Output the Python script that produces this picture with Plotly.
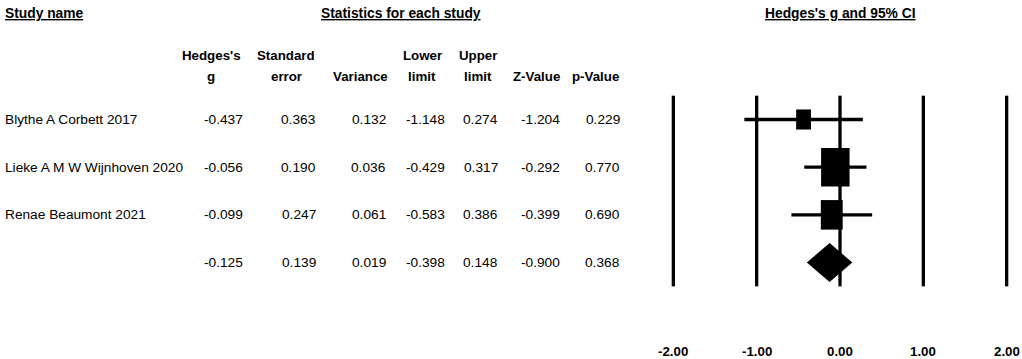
import plotly.graph_objects as go
import numpy as np

# ---- data ----
study_names = ["Blythe A Corbett 2017", "Lieke A M W Wijnhoven 2020", "Renae Beaumont 2021", ""]
hedges_g = [-0.437, -0.056, -0.099, -0.125]
std_err = [0.363, 0.190, 0.247, 0.139]
variance = [0.132, 0.036, 0.061, 0.019]
lower = [-1.148, -0.429, -0.583, -0.398]
upper = [0.274, 0.317, 0.386, 0.148]
z_value = [-1.204, -0.292, -0.399, -0.900]
p_value = [0.229, 0.770, 0.690, 0.368]
tick_vals = [-2, -1, 0, 1, 2]
tick_text = ["-2.00", "-1.00", "0.00", "1.00", "2.00"]

W, H = 1022, 359
PX_X = 83.33     # px per unit of g
PX_Y = 47.67     # px per row
ROW0 = 119.5     # px of first row
X0 = 840.0       # px of g = 0

x_range = [-X0 / PX_X, (W - X0) / PX_X]
y_range = [(H - ROW0) / PX_Y, -ROW0 / PX_Y]  # reversed

FONT = "Liberation Sans, Arial, sans-serif"
FS = 13.7
FSB = 13.3
FST = 13.8

fig = go.Figure()

# vertical reference lines
for v in tick_vals:
    fig.add_trace(go.Scatter(x=[v, v], y=[-0.5, 3.5], mode="lines",
                             line=dict(color="black", width=3.3),
                             hoverinfo="skip", showlegend=False))

# study CIs and weight boxes
n_st = 3
for i in range(n_st):
    fig.add_trace(go.Scatter(x=[lower[i], upper[i]], y=[i, i], mode="lines",
                             line=dict(color="black", width=3.3),
                             hoverinfo="skip", showlegend=False))
    w = 1.0 / variance[i]
    side_px = 5.4 * np.sqrt(w)
    hw = side_px / 2 / PX_X
    hh = side_px * 1.35 / 2 / PX_Y
    g = hedges_g[i]
    fig.add_trace(go.Scatter(x=[g - hw, g + hw, g + hw, g - hw, g - hw],
                             y=[i - hh, i - hh, i + hh, i + hh, i - hh],
                             mode="lines", fill="toself", fillcolor="black",
                             line=dict(color="black", width=0),
                             hoverinfo="skip", showlegend=False))

# summary diamond
s = 3
dh = 19.5 / PX_Y
fig.add_trace(go.Scatter(x=[lower[s], hedges_g[s], upper[s], hedges_g[s], lower[s]],
                         y=[s, s - dh, s, s + dh, s],
                         mode="lines", fill="toself", fillcolor="black",
                         line=dict(color="black", width=0),
                         hoverinfo="skip", showlegend=False))

ann = []
def px_x(px):
    return px / W

def py(px):
    return (px - ROW0) / PX_Y

def A(text, x, y, xanchor="center", xref="paper", yref="y", bold=False, size=None):
    t = f"<b>{text}</b>" if bold else text
    sz = size if size else (FSB if bold else FS)
    ann.append(dict(text=t, x=x, y=y, xref=xref, yref=yref, xanchor=xanchor,
                    yanchor="middle", showarrow=False,
                    font=dict(family=FONT, size=sz, color="black")))

# top headers
A("<u>Study name</u>", px_x(3), py(13), xanchor="left", bold=True, size=FST)
A("<u>Statistics for each study</u>", px_x(401), py(13), bold=True, size=FST)
A("<u>Hedges's g and 95% CI</u>", px_x(840), py(13), bold=True, size=FST)

# column headers (two lines)
hdr1 = ["Hedges's", "Standard", "", "Lower", "Upper", "", ""]
hdr2 = ["g", "error", "Variance", "limit", "limit", "Z-Value", "p-Value"]
hdr_cx = [211, 286, 360, 422, 478, 536, 595]
for t1, t2, cx in zip(hdr1, hdr2, hdr_cx):
    if t1:
        A(t1, px_x(cx), py(55), bold=True)
    A(t2, px_x(cx), py(76), bold=True)

# table values (right aligned)
col_right = [245, 318, 388, 447, 500, 562, 622]
cols = [hedges_g, std_err, variance, lower, upper, z_value, p_value]
for i in range(4):
    if study_names[i]:
        A(study_names[i], px_x(3), i, xanchor="left")
    for c, xr in zip(cols, col_right):
        A(f"{c[i]:.3f}", px_x(xr), i, xanchor="right")

# axis tick labels
for v, t in zip(tick_vals, tick_text):
    A(t, v, py(351), xref="x", bold=True)

fig.update_layout(
    width=W, height=H,
    margin=dict(l=0, r=0, t=0, b=0),
    paper_bgcolor="white", plot_bgcolor="white",
    xaxis=dict(range=x_range, visible=False, fixedrange=True),
    yaxis=dict(range=y_range, visible=False, fixedrange=True),
    annotations=ann,
    showlegend=False,
)

fig.write_html(
    "out.html",
    config={"displayModeBar": False},
    post_script="document.body.style.margin='0px';document.body.style.overflow='hidden';",
)
